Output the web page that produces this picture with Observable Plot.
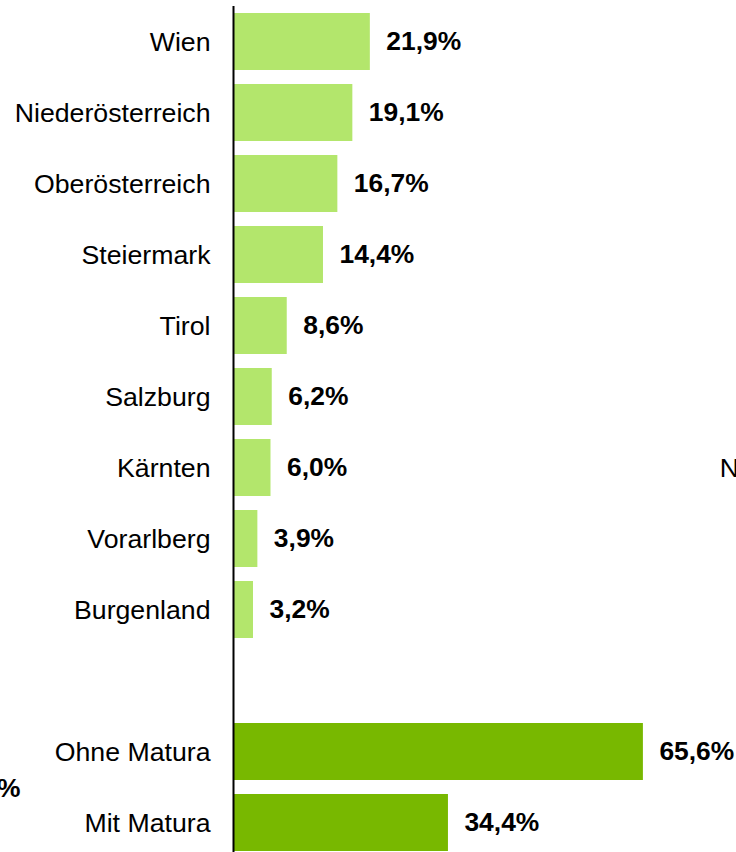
<!DOCTYPE html>
<html>
<head>
<meta charset="utf-8">
<script src="https://cdn.jsdelivr.net/npm/d3@7"></script>
<script src="https://cdn.jsdelivr.net/npm/@observablehq/plot@0.6"></script>
<style>
  html, body { margin: 0; padding: 0; background: #fff; overflow: hidden; }
  #chart svg { display: block; }
</style>
</head>
<body>
<div id="chart"></div>
<script>
const regions = ["Wien", "Niederösterreich", "Oberösterreich", "Steiermark", "Tirol", "Salzburg", "Kärnten", "Vorarlberg", "Burgenland"];
const regionValues = [21.9, 19.1, 16.7, 14.4, 8.6, 6.2, 6.0, 3.9, 3.2];
const education = ["Ohne Matura", "Mit Matura"];
const educationValues = [65.6, 34.4];
const spacer = " ";
const lightGreen = "#b3e66c";
const darkGreen = "#78b800";

const data = [
  ...regions.map((c, i) => ({cat: c, value: regionValues[i], group: "region"})),
  ...education.map((c, i) => ({cat: c, value: educationValues[i], group: "education"}))
];
const domain = [...regions, spacer, ...education];
const fmt = v => d3.format(".1f")(v).replace(".", ",") + "%";

const chart = Plot.plot({
  width: 736,
  height: 858,
  marginTop: 6,
  marginBottom: 0,
  marginLeft: 233,
  marginRight: 0,
  style: {fontFamily: "'Liberation Sans', Arial, sans-serif", fontSize: "26px", color: "#000"},
  x: {domain: [0, 80.5], axis: null},
  y: {domain, paddingInner: 0.2, paddingOuter: 0.1, label: null},
  marks: [
    Plot.barX(data, {
      y: "cat", x: "value",
      fill: d => d.group === "region" ? lightGreen : darkGreen
    }),
    Plot.text(data, {
      y: "cat", x: "value", text: d => fmt(d.value),
      textAnchor: "start", dx: 16, fontWeight: "bold", fontSize: 26.4, fill: "#000"
    }),
    Plot.axisY({tickSize: 0, tickPadding: 23, fontSize: 26.7, label: null,
      tickFormat: d => d === spacer ? "" : d}),
    Plot.ruleX([0], {stroke: "#000", strokeWidth: 2}),
    // fragments of neighbouring content visible at the crop edges
    Plot.text(["N"], {x: () => 77.8, y: () => "Kärnten", textAnchor: "start", fontSize: 26.7, fill: "#000", clip: false}),
    Plot.text(["%"], {x: () => -34.1, y: () => "Ohne Matura", dy: 37, textAnchor: "end", fontWeight: "bold", fontSize: 26.4, fill: "#000", clip: false})
  ]
});
document.getElementById("chart").append(chart);
</script>
</body>
</html>
